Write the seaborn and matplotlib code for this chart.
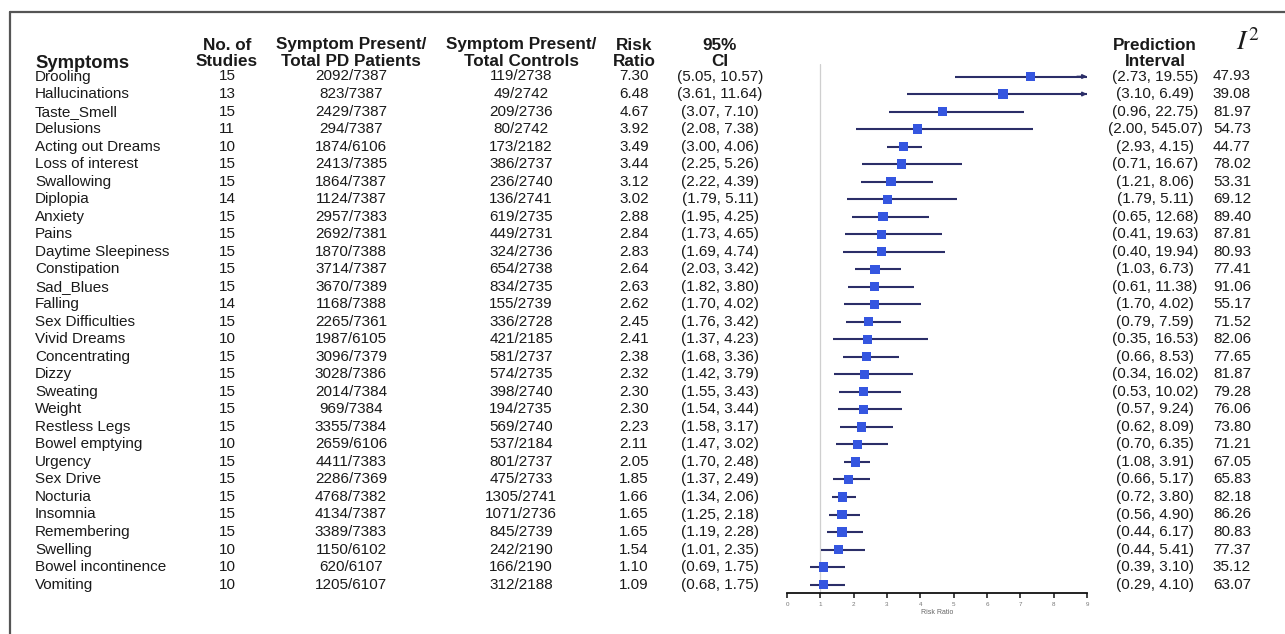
import matplotlib
matplotlib.use("Agg")
import matplotlib.pyplot as plt
import matplotlib.transforms as mtransforms
from matplotlib.lines import Line2D
import numpy as np
import pandas as pd
import seaborn as sns

symptoms = ["Drooling", "Hallucinations", "Taste_Smell", "Delusions", "Acting out Dreams",
            "Loss of interest", "Swallowing", "Diplopia", "Anxiety", "Pains",
            "Daytime Sleepiness", "Constipation", "Sad_Blues", "Falling", "Sex Difficulties",
            "Vivid Dreams", "Concentrating", "Dizzy", "Sweating", "Weight",
            "Restless Legs", "Bowel emptying", "Urgency", "Sex Drive", "Nocturia",
            "Insomnia", "Remembering", "Swelling", "Bowel incontinence", "Vomiting"]
studies = [15, 13, 15, 11, 10, 15, 15, 14, 15, 15, 15, 15, 15, 14, 15,
           10, 15, 15, 15, 15, 15, 10, 15, 15, 15, 15, 15, 10, 10, 10]
pd_present = ["2092/7387", "823/7387", "2429/7387", "294/7387", "1874/6106", "2413/7385",
              "1864/7387", "1124/7387", "2957/7383", "2692/7381", "1870/7388", "3714/7387",
              "3670/7389", "1168/7388", "2265/7361", "1987/6105", "3096/7379", "3028/7386",
              "2014/7384", "969/7384", "3355/7384", "2659/6106", "4411/7383", "2286/7369",
              "4768/7382", "4134/7387", "3389/7383", "1150/6102", "620/6107", "1205/6107"]
ctrl_present = ["119/2738", "49/2742", "209/2736", "80/2742", "173/2182", "386/2737",
                "236/2740", "136/2741", "619/2735", "449/2731", "324/2736", "654/2738",
                "834/2735", "155/2739", "336/2728", "421/2185", "581/2737", "574/2735",
                "398/2740", "194/2735", "569/2740", "537/2184", "801/2737", "475/2733",
                "1305/2741", "1071/2736", "845/2739", "242/2190", "166/2190", "312/2188"]
risk_ratio = [7.30, 6.48, 4.67, 3.92, 3.49, 3.44, 3.12, 3.02, 2.88, 2.84, 2.83, 2.64, 2.63,
              2.62, 2.45, 2.41, 2.38, 2.32, 2.30, 2.30, 2.23, 2.11, 2.05, 1.85, 1.66, 1.65,
              1.65, 1.54, 1.10, 1.09]
ci_low = [5.05, 3.61, 3.07, 2.08, 3.00, 2.25, 2.22, 1.79, 1.95, 1.73, 1.69, 2.03, 1.82,
          1.70, 1.76, 1.37, 1.68, 1.42, 1.55, 1.54, 1.58, 1.47, 1.70, 1.37, 1.34, 1.25,
          1.19, 1.01, 0.69, 0.68]
ci_high = [10.57, 11.64, 7.10, 7.38, 4.06, 5.26, 4.39, 5.11, 4.25, 4.65, 4.74, 3.42, 3.80,
           4.02, 3.42, 4.23, 3.36, 3.79, 3.43, 3.44, 3.17, 3.02, 2.48, 2.49, 2.06, 2.18,
           2.28, 2.35, 1.75, 1.75]
pred_interval = ["(2.73, 19.55)", "(3.10, 6.49)", "(0.96, 22.75)", "(2.00, 545.07)",
                 "(2.93, 4.15)", "(0.71, 16.67)", "(1.21, 8.06)", "(1.79, 5.11)",
                 "(0.65, 12.68)", "(0.41, 19.63)", "(0.40, 19.94)", "(1.03, 6.73)",
                 "(0.61, 11.38)", "(1.70, 4.02)", "(0.79, 7.59)", "(0.35, 16.53)",
                 "(0.66, 8.53)", "(0.34, 16.02)", "(0.53, 10.02)", "(0.57, 9.24)",
                 "(0.62, 8.09)", "(0.70, 6.35)", "(1.08, 3.91)", "(0.66, 5.17)",
                 "(0.72, 3.80)", "(0.56, 4.90)", "(0.44, 6.17)", "(0.44, 5.41)",
                 "(0.39, 3.10)", "(0.29, 4.10)"]
i_squared = [47.93, 39.08, 81.97, 54.73, 44.77, 78.02, 53.31, 69.12, 89.40, 87.81, 80.93,
             77.41, 91.06, 55.17, 71.52, 82.06, 77.65, 81.87, 79.28, 76.06, 73.80, 71.21,
             67.05, 65.83, 82.18, 86.26, 80.83, 77.37, 35.12, 63.07]
x_ticks = [0, 1, 2, 3, 4, 5, 6, 7, 8, 9]

sns.set_theme(style="white")
plt.rcParams["font.family"] = ["Liberation Sans", "DejaVu Sans"]
plt.rcParams["mathtext.fontset"] = "stix"

W, H = 1285, 634
fig = plt.figure(figsize=(W / 100, H / 100), dpi=100)

# forest axes: x 0..9 -> px 787..1087 ; rows at px 76 + 17.52*i
ax_left, ax_right = 787, 1087
ax_top_px, ax_bot_px = 64, 593
ax = fig.add_axes([ax_left / W, (H - ax_bot_px) / H, (ax_right - ax_left) / W,
                   (ax_bot_px - ax_top_px) / H])
row_px0, row_step = 76.5, 17.52

df = pd.DataFrame({"symptom": symptoms, "rr": risk_ratio, "lo": ci_low, "hi": ci_high})
df["row"] = np.arange(len(df))
df["hi_clip"] = np.minimum(df["hi"], 9)

ax.set_xlim(0, 9)
ax.set_ylim((ax_bot_px - row_px0) / row_step, (ax_top_px - row_px0) / row_step)

line_col = "#2B2E68"
mark_col = "#3556E0"
ax.axvline(1, color="#cfcfcf", lw=0.9, zorder=1)
ax.hlines(df["row"], df["lo"], df["hi_clip"], color=line_col, lw=1.5, zorder=2)
for _, r in df[df["hi"] > 9].iterrows():
    ax.annotate("", xy=(9, r["row"]), xytext=(8.7, r["row"]),
                arrowprops=dict(arrowstyle="-|>", color=line_col, lw=1.2,
                                mutation_scale=6, shrinkA=0, shrinkB=0), zorder=2)
sns.scatterplot(data=df, x="rr", y="row", marker="s", s=44, color=mark_col,
                edgecolor="none", linewidth=0, legend=False, zorder=3, ax=ax)

for s in ["top", "right", "left"]:
    ax.spines[s].set_visible(False)
ax.spines["bottom"].set_color("#111111")
ax.spines["bottom"].set_linewidth(1.3)
ax.set_yticks([])
ax.set_xticks(x_ticks)
ax.set_xticklabels([str(t) for t in x_ticks])
ax.tick_params(axis="x", direction="out", length=3.8, width=1.1, color="#111111",
               labelsize=4.5, labelcolor="#777777", pad=3, bottom=True)
ax.set_xlabel("Risk Ratio", fontsize=5, color="#666666", labelpad=1)
ax.set_ylabel("")
ax.grid(False)

# table text
tr = mtransforms.blended_transform_factory(fig.transFigure, ax.transData)
fs = 11
hfs = 12.3
txt_col = "#1a1a1a"
col_x = {"sym": 35, "stud": 227, "pd": 351, "ctrl": 521, "rr": 634, "ci": 720,
         "pi": 1155, "i2": 1232}

def fx(px):
    return px / W

for i in range(len(symptoms)):
    ax.text(fx(col_x["sym"]), i, symptoms[i], transform=tr, ha="left", va="center",
            fontsize=fs, color=txt_col)
    ax.text(fx(col_x["stud"]), i, str(studies[i]), transform=tr, ha="center",
            va="center", fontsize=fs, color=txt_col)
    ax.text(fx(col_x["pd"]), i, pd_present[i], transform=tr, ha="center", va="center",
            fontsize=fs, color=txt_col)
    ax.text(fx(col_x["ctrl"]), i, ctrl_present[i], transform=tr, ha="center",
            va="center", fontsize=fs, color=txt_col)
    ax.text(fx(col_x["rr"]), i, f"{risk_ratio[i]:.2f}", transform=tr, ha="center",
            va="center", fontsize=fs, color=txt_col)
    ax.text(fx(col_x["ci"]), i, f"({ci_low[i]:.2f}, {ci_high[i]:.2f})", transform=tr,
            ha="center", va="center", fontsize=fs, color=txt_col)
    ax.text(fx(col_x["pi"]), i, pred_interval[i], transform=tr, ha="center",
            va="center", fontsize=fs, color=txt_col)
    ax.text(fx(col_x["i2"]), i, f"{i_squared[i]:.2f}", transform=tr, ha="center",
            va="center", fontsize=fs, color=txt_col)

h1 = (45 - row_px0) / row_step
h2 = (61 - row_px0) / row_step
headers = [
    ("stud", "No. of", "Studies", "center"),
    ("pd", "Symptom Present/", "Total PD Patients", "center"),
    ("ctrl", "Symptom Present/", "Total Controls", "center"),
    ("rr", "Risk", "Ratio", "center"),
    ("ci", "95%", "CI", "center"),
    ("pi", "Prediction", "Interval", "center"),
]
for key, l1, l2, ha in headers:
    ax.text(fx(col_x[key]), h1, l1, transform=tr, ha=ha, va="center", fontsize=hfs,
            fontweight="bold", color=txt_col)
    ax.text(fx(col_x[key]), h2, l2, transform=tr, ha=ha, va="center", fontsize=hfs,
            fontweight="bold", color=txt_col)
ax.text(fx(col_x["sym"]), (63 - row_px0) / row_step, "Symptoms", transform=tr, ha="left",
        va="center", fontsize=13.2, fontweight="bold", color=txt_col)
ax.text(fx(1248), (43 - row_px0) / row_step, r"$I^2$", transform=tr, ha="center",
        va="center", fontsize=20, color=txt_col)

# outer frame (cut at right and bottom)
fig.add_artist(Line2D([10 / W, 10 / W], [0, 1 - 12 / H], transform=fig.transFigure,
                      color="#555555", lw=1.6))
fig.add_artist(Line2D([10 / W, 1], [1 - 12 / H, 1 - 12 / H], transform=fig.transFigure,
                      color="#555555", lw=1.6))

fig.savefig("out.png", dpi=100)
